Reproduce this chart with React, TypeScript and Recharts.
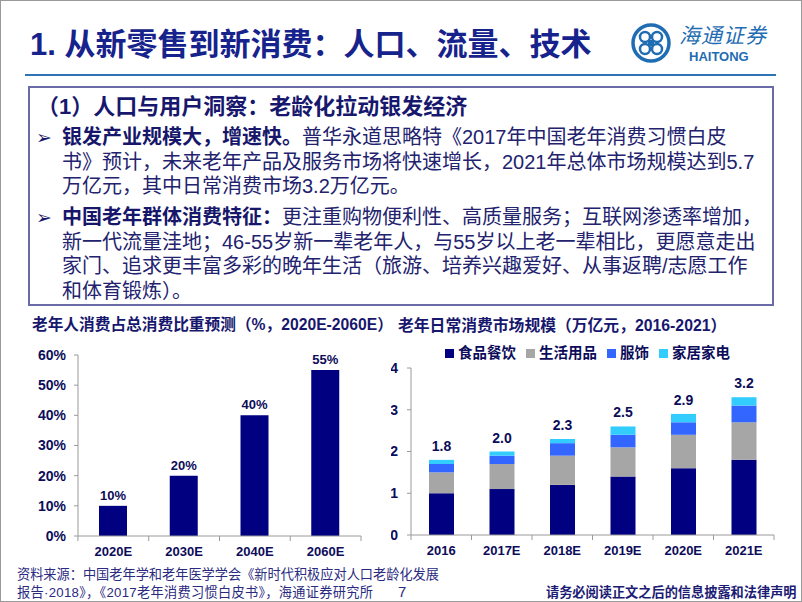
import React from "react"
import { BarChart, Bar, XAxis, YAxis, Legend, LabelList } from "recharts"

// 老年人消费占总消费比重预测
const shareYears = ["2020E", "2030E", "2040E", "2060E"]
const shareValues = [10, 20, 40, 55]
const shareTicks = [0, 10, 20, 30, 40, 50, 60]

// 老年日常消费市场规模（万亿元）
const marketYears = ["2016", "2017E", "2018E", "2019E", "2020E", "2021E"]
const seriesNames = ["食品餐饮", "生活用品", "服饰", "家居家电"]
const food = [1.0, 1.1, 1.2, 1.4, 1.6, 1.8]
const daily = [0.5, 0.6, 0.7, 0.7, 0.8, 0.9]
const clothing = [0.2, 0.2, 0.3, 0.3, 0.3, 0.4]
const home = [0.1, 0.1, 0.1, 0.2, 0.2, 0.2]
const totalLabels = ["1.8", "2.0", "2.3", "2.5", "2.9", "3.2"]
const marketTicks = [0, 1, 2, 3, 4]

const FONT = '"Liberation Sans", Arial, "Noto Sans CJK SC", sans-serif'
const NAVY_TEXT = "#0c0c5a"
const AXIS = "#9a9a9a"

const shareData = shareYears.map((year, i) => ({ year, share: shareValues[i] }))
const marketData = marketYears.map((year, i) => ({
  year,
  food: food[i],
  daily: daily[i],
  clothing: clothing[i],
  home: home[i],
  total: totalLabels[i],
}))

// x tick with the small marks between categories, like the office chart
function BoundaryTick(props: any) {
  const { x, y, payload, half, lastValue, fontSize } = props
  return (
    <g>
      <line x1={x - half} x2={x - half} y1={y} y2={y + 5} stroke={AXIS} />
      {payload.value === lastValue && <line x1={x + half} x2={x + half} y1={y} y2={y + 5} stroke={AXIS} />}
      <text
        x={x}
        y={y + 15}
        dy="0.36em"
        textAnchor="middle"
        fill={NAVY_TEXT}
        fontSize={fontSize}
        fontWeight={700}
        fontFamily={FONT}
      >
        {payload.value}
      </text>
    </g>
  )
}

function TextLine({ x, cy, size, children, style }: any) {
  const lh = Math.round(size * 1.3)
  return (
    <div
      style={{
        position: "absolute",
        left: x,
        top: cy - lh / 2,
        height: lh,
        lineHeight: `${lh}px`,
        fontSize: size,
        whiteSpace: "nowrap",
        ...style,
      }}
    >
      {children}
    </div>
  )
}

function Logo() {
  return (
    <div style={{ position: "absolute", left: 628, top: 20 }}>
      <svg width={44} height={44}>
        <circle cx={22} cy={22} r={18} fill="none" stroke="#1f6db3" strokeWidth={3.5} />
        <circle cx={16} cy={16} r={5} fill="none" stroke="#1f6db3" strokeWidth={2.5} />
        <circle cx={28} cy={16} r={5} fill="none" stroke="#1f6db3" strokeWidth={2.5} />
        <circle cx={16} cy={28} r={5} fill="none" stroke="#1f6db3" strokeWidth={2.5} />
        <circle cx={28} cy={28} r={5} fill="none" stroke="#1f6db3" strokeWidth={2.5} />
        <rect x={19} y={19} width={6} height={6} fill="#1f6db3" />
      </svg>
      <div
        style={{
          position: "absolute",
          left: 50,
          top: 3,
          fontSize: 21,
          lineHeight: "24px",
          color: "#1f6db3",
          fontStyle: "italic",
          whiteSpace: "nowrap",
          letterSpacing: 1,
        }}
      >
        海通证券
      </div>
      <div
        style={{
          position: "absolute",
          left: 60,
          top: 28,
          fontSize: 13,
          lineHeight: "15px",
          fontWeight: 700,
          color: "#1f6db3",
          fontFamily: '"Liberation Sans", Arial, sans-serif',
        }}
      >
        HAITONG
      </div>
    </div>
  )
}

function ShareChart() {
  return (
    <div style={{ position: "absolute", left: 0, top: 335 }}>
      <BarChart width={380} height={230} data={shareData} margin={{ top: 19, right: 20, left: 17, bottom: 0 }}>
        <XAxis
          dataKey="year"
          height={30}
          interval={0}
          axisLine={{ stroke: AXIS }}
          tickLine={false}
          tickSize={0}
          tickMargin={0}
          tick={<BoundaryTick half={35.4} lastValue="2060E" fontSize={13} />}
        />
        <YAxis
          width={60}
          domain={[0, 60]}
          ticks={shareTicks}
          interval={0}
          tickFormatter={(v) => `${v}%`}
          axisLine={{ stroke: AXIS }}
          tickLine={{ stroke: AXIS }}
          tickSize={4}
          tickMargin={8}
          tick={{ fill: NAVY_TEXT, fontSize: 14, fontWeight: 700, fontFamily: FONT }}
        />
        <Bar dataKey="share" fill="#000080" barSize={28} isAnimationActive={false}>
          <LabelList
            dataKey="share"
            position="top"
            offset={6}
            formatter={(v: any) => `${v}%`}
            fill={NAVY_TEXT}
            fontSize={13}
            fontWeight={700}
            fontFamily={FONT}
          />
        </Bar>
      </BarChart>
    </div>
  )
}

function MarketChart() {
  return (
    <div style={{ position: "absolute", left: 390, top: 336 }}>
      <BarChart width={400} height={224} data={marketData} margin={{ top: 4, right: 17, left: 0, bottom: 0 }}>
        <Legend
          verticalAlign="top"
          align="center"
          height={27}
          width={363}
          iconType="square"
          iconSize={9}
          itemSorter={(item: any) => seriesNames.indexOf(item.value)}
          wrapperStyle={{ left: 20 }}
          formatter={(value: any) => (
            <span style={{ color: NAVY_TEXT, fontSize: 14.5, fontWeight: 700 }}>{value}</span>
          )}
        />
        <XAxis
          dataKey="year"
          height={26}
          interval={0}
          axisLine={{ stroke: AXIS }}
          tickLine={false}
          tickSize={0}
          tickMargin={0}
          tick={<BoundaryTick half={30.25} lastValue="2021E" fontSize={13} />}
        />
        <YAxis
          width={20}
          domain={[0, 4]}
          ticks={marketTicks}
          interval={0}
          axisLine={{ stroke: AXIS }}
          tickLine={{ stroke: AXIS }}
          tickSize={4}
          tickMargin={9}
          tick={{ fill: NAVY_TEXT, fontSize: 14, fontWeight: 700, fontFamily: FONT }}
        />
        <Bar dataKey="food" name={seriesNames[0]} stackId="m" fill="#000080" barSize={25} isAnimationActive={false} />
        <Bar dataKey="daily" name={seriesNames[1]} stackId="m" fill="#a6a6a6" barSize={25} isAnimationActive={false} />
        <Bar dataKey="clothing" name={seriesNames[2]} stackId="m" fill="#3366ff" barSize={25} isAnimationActive={false} />
        <Bar dataKey="home" name={seriesNames[3]} stackId="m" fill="#33ccff" barSize={25} isAnimationActive={false}>
          <LabelList
            dataKey="total"
            position="top"
            offset={9}
            fill={NAVY_TEXT}
            fontSize={14}
            fontWeight={700}
            fontFamily={FONT}
          />
        </Bar>
      </BarChart>
    </div>
  )
}

export default function App() {
  const body = { color: "#22226e" }
  const bold = { fontWeight: 700, color: "#16166a" }
  const arrow = (cy: number) => (
    <TextLine x={35} cy={cy} size={19} style={{ fontFamily: '"DejaVu Sans", sans-serif', color: "#16166a", fontWeight: 700 }}>
      ➢
    </TextLine>
  )
  return (
    <div
      style={{
        position: "absolute",
        left: 0,
        top: 0,
        width: 802,
        height: 602,
        background: "#fff",
        border: "1px solid #9a9a9a",
        boxSizing: "border-box",
        overflow: "hidden",
        fontFamily: FONT,
      }}
    >
      <TextLine x={29} cy={44} size={31} style={{ fontWeight: 700, color: "#17238c" }}>
        1. 从新零售到新消费：人口、流量、技术
      </TextLine>
      <Logo />
      <div style={{ position: "absolute", left: 24, top: 73, width: 751, height: 2, background: "#2e74b5" }} />

      <div
        style={{
          position: "absolute",
          left: 27,
          top: 85,
          width: 746,
          height: 220,
          border: "2px solid #6a6aa6",
          boxSizing: "border-box",
        }}
      />
      <TextLine x={36} cy={105} size={22} style={{ fontWeight: 700, color: "#17176e" }}>
        （1）人口与用户洞察：老龄化拉动银发经济
      </TextLine>

      {arrow(136)}
      <TextLine x={61} cy={136} size={20} style={body}>
        <span style={bold}>银发产业规模大，增速快。</span>普华永道思略特《2017年中国老年消费习惯白皮
      </TextLine>
      <TextLine x={61} cy={161} size={20} style={body}>
        书》预计，未来老年产品及服务市场将快速增长，2021年总体市场规模达到5.7
      </TextLine>
      <TextLine x={61} cy={185} size={20} style={body}>
        万亿元，其中日常消费市场3.2万亿元。
      </TextLine>

      {arrow(216)}
      <TextLine x={61} cy={216} size={20} style={body}>
        <span style={bold}>中国老年群体消费特征：</span>更注重购物便利性、高质量服务；互联网渗透率增加，
      </TextLine>
      <TextLine x={61} cy={241} size={20} style={body}>
        新一代流量洼地；46-55岁新一辈老年人，与55岁以上老一辈相比，更愿意走出
      </TextLine>
      <TextLine x={61} cy={265} size={20} style={body}>
        家门、追求更丰富多彩的晚年生活（旅游、培养兴趣爱好、从事返聘/志愿工作
      </TextLine>
      <TextLine x={61} cy={290} size={20} style={body}>
        和体育锻炼）。
      </TextLine>

      <TextLine x={31} cy={324} size={15.7} style={{ fontWeight: 700, color: "#17176e" }}>
        老年人消费占总消费比重预测（%，2020E-2060E）
      </TextLine>
      <TextLine x={397} cy={324} size={15.8} style={{ fontWeight: 700, color: "#17176e" }}>
        老年日常消费市场规模（万亿元，2016-2021）
      </TextLine>

      <ShareChart />
      <MarketChart />

      <TextLine x={16} cy={573} size={13.2} style={{ color: "#2a2a80" }}>
        资料来源：中国老年学和老年医学学会《新时代积极应对人口老龄化发展
      </TextLine>
      <TextLine x={16} cy={591} size={13.2} style={{ color: "#2a2a80", letterSpacing: 0.3 }}>
        报告·2018》，《2017老年消费习惯白皮书》，海通证券研究所
      </TextLine>
      <TextLine x={397} cy={591} size={15} style={{ color: "#2a2a80" }}>
        7
      </TextLine>
      <TextLine x={545} cy={591} size={13.2} style={{ fontWeight: 700, color: "#1c1c74" }}>
        请务必阅读正文之后的信息披露和法律声明
      </TextLine>
    </div>
  )
}
